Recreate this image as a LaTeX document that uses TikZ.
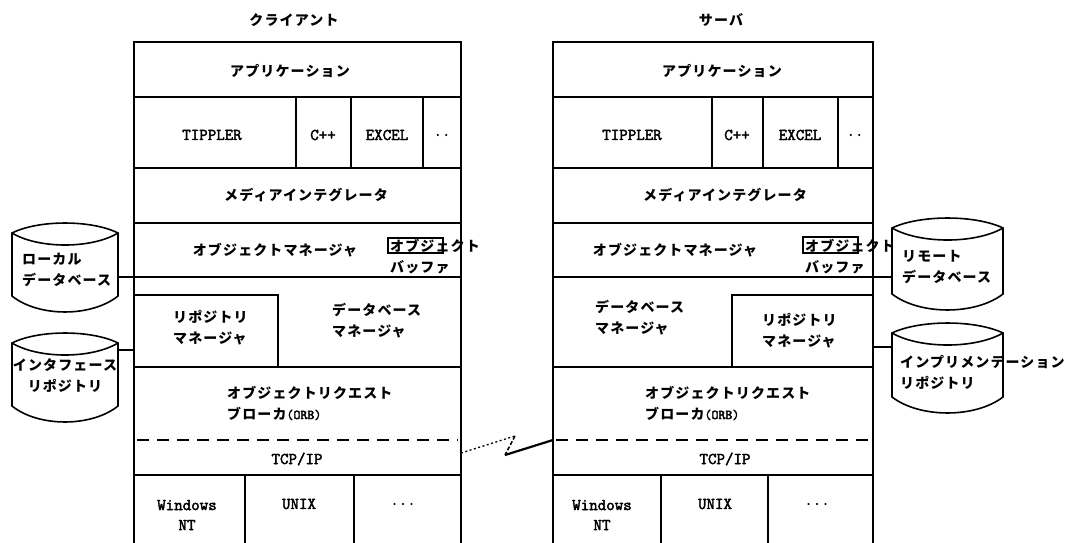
\documentclass[tikz,border=0pt]{standalone}
\usepackage{fontspec}
\newfontfamily\jp{Noto Sans CJK JP}[LetterSpace=8]
\newfontfamily\tto{Latin Modern Mono}[FakeBold=2.5]
\tikzset{
  cell/.style={draw, line width=1.6pt, inner sep=0pt, outer sep=0pt},
  bufbox/.style={draw, line width=1.4pt, inner sep=0pt, outer sep=0pt},
  jt/.style={font=\jp\bfseries\fontsize{14}{21}\selectfont, inner sep=0pt, align=left},
  jtc/.style={jt, align=center},
  tt/.style={font=\tto\fontsize{16.5}{20}\selectfont, inner sep=0pt, align=center},
  link/.style={line width=1.6pt},
  dashline/.style={line width=1.6pt, dash pattern=on 12pt off 8pt},
  drumbox/.style={inner sep=0pt, outer sep=0pt},
}
\newcommand\mkcell[6]{\node[cell, minimum width={(#4-#2)*1pt}, minimum height={(#5-#3)*1pt}] (#1) at ({(#2+#4)/2},{(#3+#5)/2}) {#6};}
\newcommand\mkbuf[5]{\node[bufbox, minimum width={(#4-#2)*1pt}, minimum height={(#5-#3)*1pt}] (#1) at ({(#2+#4)/2},{(#3+#5)/2}) {};}
% drum: name, x1, yt, x2, yb
\newcommand\mkdrum[5]{%
  \node[drumbox, minimum width={(#4-#2)*1pt}, minimum height={(#5-#3)*1pt}] (#1) at ({(#2+#4)/2},{(#3+#5)/2}) {};
  \draw[line width=1.6pt]
    ({#2},{#3+10}) .. controls ({#2+(#4-#2)/4},{#3-3.3}) and ({#4-(#4-#2)/4},{#3-3.3}) .. ({#4},{#3+10})
    -- ({#4},{#5-16}) .. controls ({#4-(#4-#2)/4},{#5+5.3}) and ({#2+(#4-#2)/4},{#5+5.3}) .. ({#2},{#5-16}) -- cycle;
  \draw[line width=1.6pt]
    ({#2},{#3+10}) .. controls ({#2+(#4-#2)/4},{#3+26}) and ({#4-(#4-#2)/4},{#3+26}) .. ({#4},{#3+10});
}
\begin{document}
\begin{tikzpicture}[x=1pt,y=-1pt]
\useasboundingbox (0,0) rectangle (1073,543);

% ---------------- client stack ----------------
\node[jtc] (ctitle) at (294,20) {クライアント};
\mkcell{capp}{134}{42}{461}{97}{}
\mkcell{ctip}{134}{97}{296}{168}{}
\mkcell{ccpp}{296}{97}{351}{168}{}
\mkcell{cexc}{351}{97}{423}{168}{}
\mkcell{cdot}{423}{97}{461}{168}{}
\mkcell{cmed}{134}{168}{461}{223}{}
\mkcell{cobj}{134}{223}{461}{277}{}
\mkcell{cdbm}{134}{277}{461}{367}{}
\mkcell{crep}{134}{295}{278}{367}{}
\mkcell{corb}{134}{367}{461}{475}{}
\mkcell{cwin}{134}{475}{245}{560}{}
\mkcell{cunx}{245}{475}{354}{560}{}
\mkcell{cetc}{354}{475}{461}{560}{}
\mkbuf{cbuf}{388}{238}{443}{253}

\node[jtc] (tcapp) at (290,71) {アプリケーション};
\node[tt] (tctip) at (212,135) {TIPPLER};
\node[tt] (tccpp) at (323,135) {C++};
\node[tt] (tcexc) at (387,135) {EXCEL};
\node[tt] (tcdot) at (442,135) {..};
\node[jtc] (tcmed) at (306,195) {メディアインテグレータ};
\node[jtc] (tcobj) at (275,250) {オブジェクトマネージャ};
\node[jt, anchor=west] (tcbuf) at (390,256.5) {オブジェクト\\バッファ};
\node[jt, anchor=west] (tcrep) at (173,327.5) {リポジトリ\\マネージャ};
\node[jt, anchor=west] (tcdbm) at (332,321) {データベース\\マネージャ};
\node[jt, anchor=west] (tcorb) at (227,403) {オブジェクトリクエスト\\ブローカ{\tto\fontsize{13.5}{20}\selectfont(ORB)}};
\draw[dashline] ([xshift=3pt,yshift=-19pt]corb.west) -- ([xshift=-3pt,yshift=-19pt]corb.east);
\node[tt] (tctcp) at (297,459) {TCP/IP};
\node[tt] (tcwin) at (187,515) {Windows\\NT};
\node[tt] (tcunx) at (299,504) {UNIX};
\node[tt] (tcetc) at (403,504) {...};

% ---------------- server stack ----------------
\node[jtc] (stitle) at (721,20) {サーバ};
\mkcell{sapp}{553}{42}{873}{97}{}
\mkcell{stip}{553}{97}{712}{168}{}
\mkcell{scpp}{712}{97}{763}{168}{}
\mkcell{sexc}{763}{97}{838}{168}{}
\mkcell{sdot}{838}{97}{873}{168}{}
\mkcell{smed}{553}{168}{873}{223}{}
\mkcell{sobj}{553}{223}{873}{277}{}
\mkcell{sdbm}{553}{277}{873}{367}{}
\mkcell{srep}{732}{295}{873}{367}{}
\mkcell{sorb}{553}{367}{873}{475}{}
\mkcell{swin}{553}{475}{661}{560}{}
\mkcell{sunx}{661}{475}{768}{560}{}
\mkcell{setc}{768}{475}{873}{560}{}
\mkbuf{sbuf}{803}{237}{858}{253}

\node[jtc] (tsapp) at (722,71) {アプリケーション};
\node[tt] (tstip) at (632,135) {TIPPLER};
\node[tt] (tscpp) at (737,135) {C++};
\node[tt] (tsexc) at (800,135) {EXCEL};
\node[tt] (tsdot) at (855,135) {..};
\node[jtc] (tsmed) at (725,195) {メディアインテグレータ};
\node[jtc] (tsobj) at (675,250) {オブジェクトマネージャ};
\node[jt, anchor=west] (tsbuf) at (805,256.5) {オブジェクト\\バッファ};
\node[jt, anchor=west] (tsdbm) at (595,317.5) {データベース\\マネージャ};
\node[jt, anchor=west] (tsrep) at (762,330.5) {リポジトリ\\マネージャ};
\node[jt, anchor=west] (tsorb) at (645,403) {オブジェクトリクエスト\\ブローカ{\tto\fontsize{13.5}{20}\selectfont(ORB)}};
\draw[dashline] ([xshift=3pt,yshift=-19pt]sorb.west) -- ([yshift=-19pt]sorb.east);
\node[tt] (tstcp) at (725,459) {TCP/IP};
\node[tt] (tswin) at (602,515) {Windows\\NT};
\node[tt] (tsunx) at (715,504) {UNIX};
\node[tt] (tsetc) at (817,504) {...};

% ---------------- databases ----------------
\mkdrum{ldb}{12}{223}{118}{312}
\node[jt, anchor=west] (tldb) at (22,270) {ローカル\\データベース};
\mkdrum{irp}{12}{333}{118}{422}
\node[jtc] (tirp) at (65,375.5) {インタフェース\\リポジトリ};
\mkdrum{rdb}{892}{218}{1003}{310}
\node[jt, anchor=west] (trdb) at (902,267) {リモート\\データベース};
\mkdrum{mrp}{892}{323}{1003}{413}
\node[jt, anchor=west] (tmrp) at (900,372.5) {インプリメンテーション\\リポジトリ};

% connectors
\coordinate (crepc) at ([yshift=-19pt]crep.west);
\coordinate (srepc) at ([yshift=-16pt]srep.east);
\draw[link] (ldb.east |- cobj.south west) -- (cobj.south west);
\draw[link] (irp.east |- crepc) -- (crepc);
\draw[link] (sobj.south east) -- (rdb.west |- sobj.south east);
\draw[link] (srepc) -- (mrp.west |- srepc);

% network link (lightning)
\coordinate (zc) at ([yshift=-32pt]corb.east);
\coordinate (z1) at (515,436);
\coordinate (z2) at (505,455);
\coordinate (zs) at ([yshift=-19pt]sorb.west);
\draw[line width=1.3pt, dash pattern=on 2pt off 2.5pt] (zc) -- (z1);
\draw[line width=1.5pt, dash pattern=on 4pt off 2pt] (z1) -- (z2);
\draw[line width=2.2pt] (z2) -- (zs);
\end{tikzpicture}
\end{document}
